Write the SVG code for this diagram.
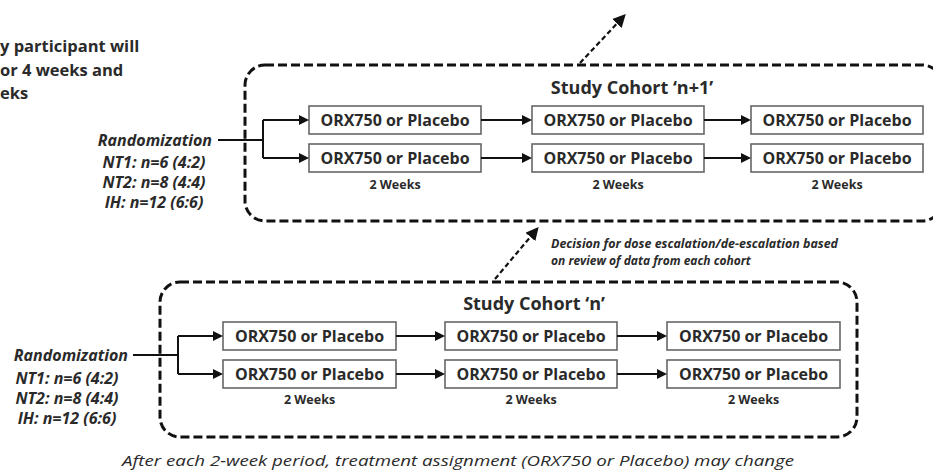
<svg xmlns="http://www.w3.org/2000/svg" width="933" height="471" viewBox="0 0 933 471">
<defs>
<style>
text{font-family:"Open Sans","Liberation Sans",sans-serif;fill:#2a2a2a}
.intro{font-weight:bold;font-size:16.5px}
.box rect{fill:#fff;stroke:#666;stroke-width:1.6}
.box text{font-weight:bold;font-size:16px;text-anchor:middle}
.wk{font-weight:bold;font-size:12.5px;text-anchor:middle}
.title{font-weight:bold;font-size:18px;text-anchor:middle}
.rand{font-weight:bold;font-style:italic;font-size:16px}
.nt{font-weight:bold;font-style:italic;font-size:16px;text-anchor:middle}
.dec{font-weight:bold;font-style:italic;font-size:12px}
.cohort{fill:none;stroke:#111;stroke-width:3;stroke-dasharray:9,4}
.con{fill:none;stroke:#111;stroke-width:2}
.dash{fill:none;stroke:#111;stroke-width:2.2;stroke-dasharray:5,3}
</style>
<marker id="ah" viewBox="0 0 10 10" refX="8" refY="5" markerWidth="11" markerHeight="10" markerUnits="userSpaceOnUse" orient="auto"><path d="M0,0 L10,5 L0,10 z" fill="#111"/></marker>
<marker id="ah2" viewBox="0 0 10 10" refX="8" refY="5" markerWidth="13" markerHeight="13" markerUnits="userSpaceOnUse" orient="auto"><path d="M0,0 L10,5 L0,10 z" fill="#111"/></marker>
</defs>
<rect width="933" height="471" fill="#fff"/>

<g id="intro-text">
<text class="intro" x="0" y="52">y participant will</text>
<text class="intro" x="0" y="76">or 4 weeks and</text>
<text class="intro" x="0" y="99">eks</text>
</g>

<g id="cohort-n1">
<rect class="cohort" x="245" y="65" width="697" height="156" rx="20"/>
<text class="title" x="632" y="94">Study Cohort ‘n+1’</text>
</g>
<g id="cohort-n">
<rect class="cohort" x="160" y="282" width="697" height="155" rx="20"/>
<text class="title" x="534" y="310">Study Cohort ‘n’</text>
</g>

<g id="rand-top">
<text class="rand" x="212" y="146" text-anchor="end">Randomization</text>
<text class="nt" x="154" y="168">NT1: n=6 (4:2)</text>
<text class="nt" x="154" y="188">NT2: n=8 (4:4)</text>
<text class="nt" x="154" y="208">IH: n=12 (6:6)</text>
</g>
<g id="rand-bottom">
<text class="rand" x="128" y="361" text-anchor="end">Randomization</text>
<text class="nt" x="67" y="384">NT1: n=6 (4:2)</text>
<text class="nt" x="67" y="404">NT2: n=8 (4:4)</text>
<text class="nt" x="67" y="424">IH: n=12 (6:6)</text>
</g>

<g id="t-r1c1" class="box"><rect x="309" y="106" width="172" height="28"/><text x="395" y="126">ORX750 or Placebo</text></g>
<g id="t-r1c2" class="box"><rect x="532" y="106" width="172" height="28"/><text x="618" y="126">ORX750 or Placebo</text></g>
<g id="t-r1c3" class="box"><rect x="751" y="106" width="172" height="28"/><text x="837" y="126">ORX750 or Placebo</text></g>
<g id="t-r2c1" class="box"><rect x="309" y="144" width="172" height="28"/><text x="395" y="164">ORX750 or Placebo</text></g>
<g id="t-r2c2" class="box"><rect x="532" y="144" width="172" height="28"/><text x="618" y="164">ORX750 or Placebo</text></g>
<g id="t-r2c3" class="box"><rect x="751" y="144" width="172" height="28"/><text x="837" y="164">ORX750 or Placebo</text></g>
<g id="t-weeks">
<text class="wk" x="395" y="189">2 Weeks</text>
<text class="wk" x="618" y="189">2 Weeks</text>
<text class="wk" x="837" y="189">2 Weeks</text>
</g>

<g id="b-r1c1" class="box"><rect x="223" y="322" width="173" height="28"/><text x="309.5" y="342">ORX750 or Placebo</text></g>
<g id="b-r1c2" class="box"><rect x="445" y="322" width="172" height="28"/><text x="531" y="342">ORX750 or Placebo</text></g>
<g id="b-r1c3" class="box"><rect x="667" y="322" width="173" height="28"/><text x="753.5" y="342">ORX750 or Placebo</text></g>
<g id="b-r2c1" class="box"><rect x="223" y="360" width="173" height="28"/><text x="309.5" y="380">ORX750 or Placebo</text></g>
<g id="b-r2c2" class="box"><rect x="445" y="360" width="172" height="28"/><text x="531" y="380">ORX750 or Placebo</text></g>
<g id="b-r2c3" class="box"><rect x="667" y="360" width="173" height="28"/><text x="753.5" y="380">ORX750 or Placebo</text></g>
<g id="b-weeks">
<text class="wk" x="309.5" y="404">2 Weeks</text>
<text class="wk" x="531" y="404">2 Weeks</text>
<text class="wk" x="753.5" y="404">2 Weeks</text>
</g>

<g id="decision-note">
<text class="dec" x="551" y="248" textLength="287" lengthAdjust="spacingAndGlyphs">Decision for dose escalation/de-escalation based</text>
<text class="dec" x="551" y="265">on review of data from each cohort</text>
</g>

<g id="caption">
<text x="122" y="466" font-style="italic" font-size="15" textLength="672" lengthAdjust="spacingAndGlyphs">After each 2-week period, treatment assignment (ORX750 or Placebo) may change</text>
</g>

<g id="connectors">
<path class="con" d="M218,140 H263 M263,120 V158"/>
<path class="con" d="M263,120 H307" marker-end="url(#ah)"/>
<path class="con" d="M263,158 H307" marker-end="url(#ah)"/>
<path class="con" d="M481,120 H530" marker-end="url(#ah)"/>
<path class="con" d="M704,120 H749" marker-end="url(#ah)"/>
<path class="con" d="M481,158 H530" marker-end="url(#ah)"/>
<path class="con" d="M704,158 H749" marker-end="url(#ah)"/>

<path class="con" d="M133,355 H178 M178,336 V374"/>
<path class="con" d="M178,336 H221" marker-end="url(#ah)"/>
<path class="con" d="M178,374 H221" marker-end="url(#ah)"/>
<path class="con" d="M396,336 H443" marker-end="url(#ah)"/>
<path class="con" d="M617,336 H665" marker-end="url(#ah)"/>
<path class="con" d="M396,374 H443" marker-end="url(#ah)"/>
<path class="con" d="M617,374 H665" marker-end="url(#ah)"/>

<path class="dash" d="M580,63 L624,16" marker-end="url(#ah2)"/>
<path class="dash" d="M495,279 L537,229" marker-end="url(#ah2)"/>
</g>
</svg>
